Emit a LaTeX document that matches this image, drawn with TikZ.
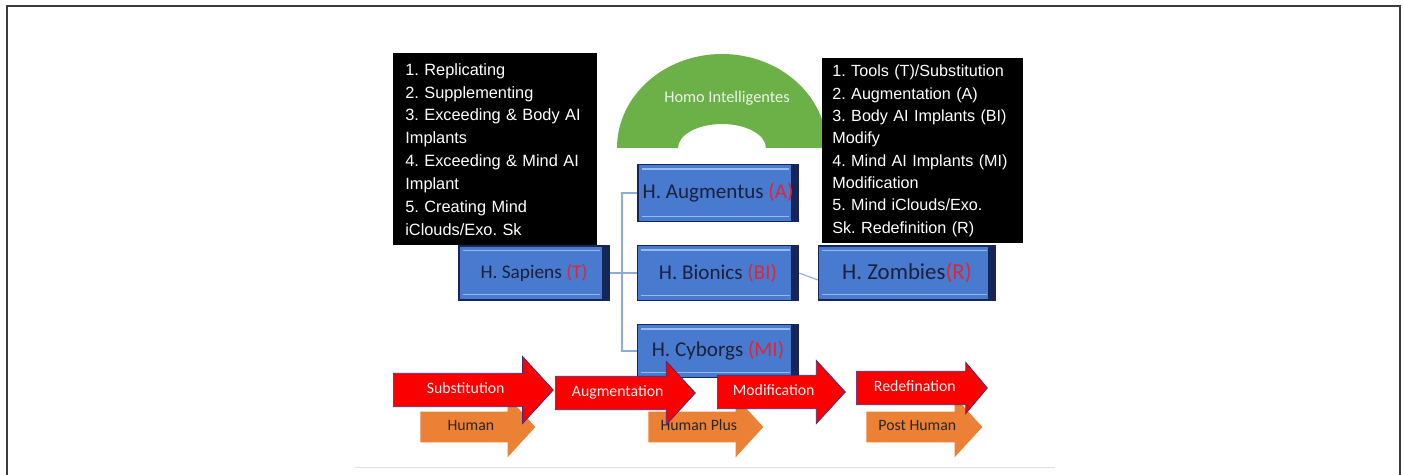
\documentclass[tikz,border=0pt]{standalone}
\usepackage{fontspec}
\setmainfont{Carlito}
\newfontfamily\arialfont{Liberation Sans}
\usetikzlibrary{shapes.arrows,calc}
\definecolor{framecol}{RGB}{60,60,60}
\definecolor{boxblue}{RGB}{72,122,208}
\definecolor{boxnavy}{RGB}{22,38,88}
\definecolor{boxlight}{RGB}{150,185,240}
\definecolor{boxtext}{RGB}{28,32,58}
\definecolor{boxred}{RGB}{226,36,52}
\definecolor{archgreen}{RGB}{108,176,72}
\definecolor{arrowred}{RGB}{250,0,0}
\definecolor{arrowedge}{RGB}{70,40,120}
\definecolor{arroworange}{RGB}{236,128,52}
\definecolor{linkblue}{RGB}{140,170,220}
\newcommand\rtag[1]{\textcolor{boxred}{#1}}
\frenchspacing
\tikzset{
  listbox/.style={fill=black,text=white,anchor=north west,align=left,font=\arialfont\fontsize{9.3}{13}\selectfont},
  bevelbox/.style={draw=boxnavy,line width=0.8pt,fill=boxblue,text=boxtext,inner sep=2pt,
    path picture={
      \fill[boxnavy] ([xshift=-4pt]path picture bounding box.north east) rectangle (path picture bounding box.south east);
      \draw[boxlight,line width=0.8pt] ([shift={(2pt,-2.5pt)}]path picture bounding box.north west) -- ([shift={(-5pt,-2.5pt)}]path picture bounding box.north east);
      \draw[boxlight,line width=0.8pt] ([shift={(2pt,3pt)}]path picture bounding box.south west) -- ([shift={(-5pt,3pt)}]path picture bounding box.south east);
    }},
  link/.style={linkblue,line width=0.6pt},
  redarrow/.style={single arrow,anchor=tail,fill=arrowred,draw=arrowedge,line width=0.4pt,text=white!95!red,
    font=\fontsize{9}{11}\selectfont,text height=6pt,text depth=2pt,inner ysep=5.3pt,inner xsep=2pt,
    single arrow head extend=0.32cm,single arrow tip angle=95},
  orangearrow/.style={single arrow,anchor=tail,fill=arroworange,text=black!85,
    font=\fontsize{9}{11}\selectfont,text height=6pt,text depth=2pt,inner ysep=4.5pt,inner xsep=2pt,
    single arrow head extend=0.3cm,single arrow tip angle=95},
}
\begin{document}
\begin{tikzpicture}[x=0.02cm,y=-0.02cm]
\useasboundingbox (0,0) rectangle (1404,475);
\draw[framecol,line width=0.9pt] (7,475) -- (7,6) -- (1400,6) -- (1400,475);
\node[listbox,text width=3.6cm,inner xsep=0.24cm,minimum height=3.84cm] (steps) at (393,53)
  {1. Replicating\\2. Supplementing\\3. Exceeding \& Body AI\\Implants\\4. Exceeding \& Mind AI\\Implant\\5. Creating Mind\\iClouds/Exo. Sk};
\fill[archgreen] (617,148) arc[start angle=180,end angle=0,x radius=2.1cm,y radius=1.88cm] -- (766,148)
  arc[start angle=0,end angle=180,x radius=0.88cm,y radius=0.48cm] -- cycle;
\node[font=\fontsize{9.3}{11}\selectfont,text=white!88!archgreen] (hi) at (727,98) {Homo Intelligentes};
\node[listbox,text width=3.62cm,inner xsep=0.2cm,minimum height=3.7cm,font=\arialfont\fontsize{9.2}{12.7}\selectfont] (stages) at (822,58)
  {1. Tools (T)/Substitution\\2. Augmentation (A)\\3. Body AI Implants (BI)\\Modify\\4. Mind AI Implants (MI)\\Modification\\5. Mind iClouds/Exo.\\Sk. Redefinition (R)};
\node[bevelbox,minimum width=3.2cm,minimum height=1.14cm,font=\fontsize{12}{14}\selectfont] (aug) at (718,193) {H. Augmentus \rtag{(A)}};
\node[bevelbox,minimum width=3cm,minimum height=1.08cm,font=\fontsize{11}{13}\selectfont] (sap) at (534,273) {H. Sapiens \rtag{(T)}};
\node[bevelbox,minimum width=3.22cm,minimum height=1.1cm,font=\fontsize{12}{14}\selectfont] (bio) at (718,273) {H. Bionics \rtag{(BI)}};
\node[bevelbox,minimum width=3.54cm,minimum height=1.08cm,font=\fontsize{13}{15}\selectfont] (zom) at (907,273) {H. Zombies\rtag{(R)}};
\node[bevelbox,minimum width=3.22cm,minimum height=1.06cm,font=\fontsize{12}{14}\selectfont] (cyb) at (718,351) {H. Cyborgs \rtag{(MI)}};
\coordinate (fork) at (622,273);
\draw[link] (sap.east) -- (fork);
\foreach \b in {aug,bio,cyb} \draw[link] (fork) |- (\b.west);
\draw[link] (bio.east) -- ($(zom.west)+(0,7)$);
\node[orangearrow,minimum height=2.3cm] (human) at (420,427) {Human};
\node[orangearrow,minimum height=2.3cm] (plus) at (648,427) {Human Plus};
\node[orangearrow,minimum height=2.32cm] (post) at (866,427) {Post Human};
\node[redarrow,minimum height=3.2cm,single arrow head extend=0.34cm] (subs) at (393,390) {Substitution};
\node[redarrow,minimum height=2.8cm,single arrow head extend=0.3cm] (augm) at (555,393) {Augmentation};
\node[redarrow,minimum height=2.56cm,single arrow head extend=0.3cm] (modi) at (717,392) {Modification};
\node[redarrow,minimum height=2.62cm,single arrow head extend=0.18cm,single arrow tip angle=100] (rede) at (856,388) {Redefination};
\draw[gray!25] (355,467) -- (1055,467);
\end{tikzpicture}
\end{document}
